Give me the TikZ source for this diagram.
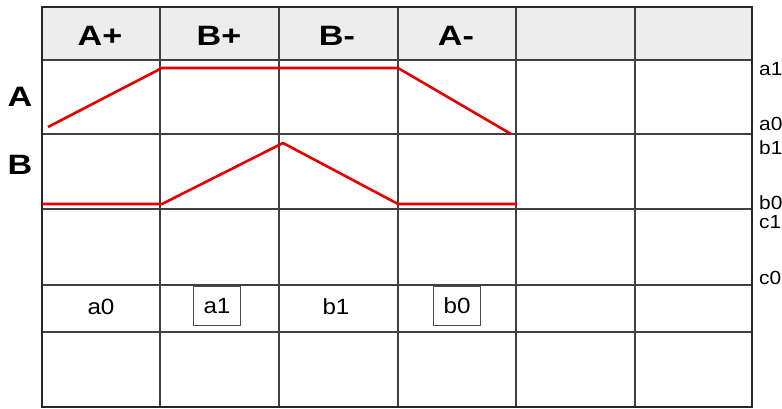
\documentclass[tikz,border=0pt]{standalone}
\usepackage{fontspec}
\setmainfont{Liberation Sans}
\newcommand{\wide}[2]{\scalebox{#1}[1]{#2}}
\begin{document}
\begin{tikzpicture}[x=1pt,y=-1pt,
  gridline/.style={draw=black!75,line width=1.2pt},
  hdr/.style={font=\fontsize{28}{30}\selectfont\bfseries,anchor=center},
  side/.style={font=\fontsize{28}{30}\selectfont\bfseries,anchor=center},
  lvl/.style={font=\fontsize{19}{21}\selectfont,anchor=west,inner sep=0pt},
  sig/.style={font=\fontsize{22}{24}\selectfont,anchor=center},
  boxed/.style={sig,draw=black!70,line width=0.9pt,minimum width=47pt,minimum height=39pt,inner sep=1pt},
  trace/.style={draw=red!90!black,line width=2.6pt,line join=round}]
\useasboundingbox (0,0) rectangle (782,409);
\clip (0,0) rectangle (782,409);
% header fill
\fill[black!7] (42,7) rectangle (752,60);
% grid
\foreach \x in {160,279,398,516,635} \draw[gridline] (\x,7) -- (\x,407);
\foreach \y in {60,134,209,285,332} \draw[gridline] (42,\y) -- (752,\y);
\draw[black!85,line width=2.2pt] (42,7) rectangle (752,407);
% header labels
\node[hdr] (hA) at (100,36) {\wide{1.22}{A+}};
\node[hdr] (hB) at (219,36) {\wide{1.22}{B+}};
\node[hdr] (hBm) at (337,36) {\wide{1.22}{B-}};
\node[hdr] (hAm) at (456,36) {\wide{1.22}{A-}};
% side labels
\node[side] (sA) at (20,97) {\wide{1.22}{A}};
\node[side] (sB) at (20,165) {\wide{1.22}{B}};
% right level labels
\node[lvl] (la1) at (759,69) {\wide{1.1}{a1}};
\node[lvl] (la0) at (759,124) {\wide{1.1}{a0}};
\node[lvl] (lb1) at (759,148) {\wide{1.1}{b1}};
\node[lvl] (lb0) at (759,203) {\wide{1.1}{b0}};
\node[lvl] (lc1) at (759,222) {\wide{1.1}{c1}};
\node[lvl] (lc0) at (759,278) {\wide{1.1}{c0}};
% bottom signal labels
\node[sig] (s1) at (101,307) {\wide{1.1}{a0}};
\node[boxed] (s2) at (217,306) {\wide{1.1}{a1}};
\node[sig] (s3) at (336,307) {\wide{1.1}{b1}};
\node[boxed] (s4) at (457,306) {\wide{1.1}{b0}};
% traces
\coordinate (a0s) at (48,127);
\coordinate (a1s) at (162,68);
\coordinate (a1e) at (398,68);
\coordinate (a0e) at (511,134);
\draw[trace] (a0s) -- (a1s) -- (a1e) -- (a0e);
\coordinate (b0s) at (42,204);
\coordinate (b0m) at (162,204);
\coordinate (b1p) at (283,143);
\coordinate (b0n) at (398,204);
\coordinate (b0e) at (517,204);
\draw[trace] (b0s) -- (b0m) -- (b1p) -- (b0n) -- (b0e);
\end{tikzpicture}
\end{document}
